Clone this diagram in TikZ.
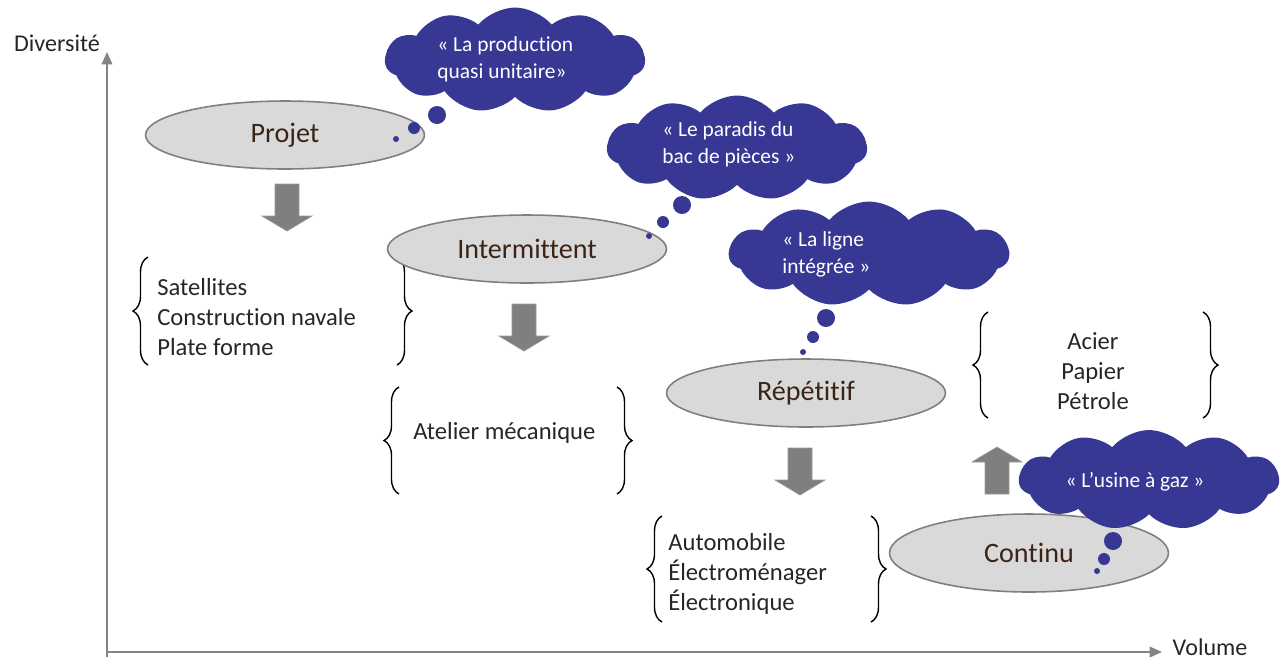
\documentclass[tikz,border=0pt]{standalone}
\usepackage{fontspec}
\setmainfont{Carlito}[Ligatures=NoCommon]
\usetikzlibrary{shapes.symbols,shapes.geometric,decorations.pathreplacing,arrows.meta}
\definecolor{cloudblue}{HTML}{373893}
\definecolor{ellfill}{HTML}{D9D9D9}
\definecolor{ellline}{HTML}{7F7F7F}
\definecolor{axisgray}{HTML}{858585}
\definecolor{arrowgray}{HTML}{7F7F7F}
\definecolor{ellfont}{HTML}{3B2416}
\definecolor{txt}{HTML}{262626}
\begin{document}
\begin{tikzpicture}[x=0.02cm,y=-0.02cm,
  stage/.style={ellipse, draw=ellline, line width=0.9pt, fill=ellfill, inner sep=0pt,
    minimum width=5.58cm, minimum height=1.36cm, font=\fontsize{16}{19}\selectfont, text=ellfont},
  thought/.style={cloud, cloud puffs=11, cloud puff arc=100, fill=cloudblue, draw=none, inner sep=0pt, aspect=2.5},
  cloudtext/.style={text=white, font=\fontsize{12.2}{15.3}\selectfont, align=left, inner sep=0pt, anchor=north west},
  bubble/.style={circle, fill=cloudblue, inner sep=0pt},
  examples/.style={text=txt, font=\fontsize{14}{17}\selectfont, inner sep=0pt},
  axislabel/.style={text=txt, font=\fontsize{13.7}{16}\selectfont, inner sep=0pt},
  axisline/.style={draw=axisgray, line width=1.1pt, -{Triangle[length=7pt,width=6pt]}},
  bracepath/.style={decorate, decoration={brace, amplitude=0.3cm}, line width=0.8pt, draw=black},
  blockarrow/.style={fill=arrowgray, draw=arrowgray!80!white, line width=0.4pt}
]
\useasboundingbox (0,0) rectangle (1281,664);

% axes
\coordinate (origin) at (107,652);
\coordinate (ytop) at (107,52);
\coordinate (xend) at (1162,652);
\draw[axisline] (107,657) -- (ytop);
\draw[axisline] (origin) -- (xend);
\node[axislabel] (ylab) at (57,43) {Diversité};
\node[axislabel] (xlab) at (1210,647) {Volume};

% braces
\coordinate (b1lb) at (148,365); \coordinate (b1lt) at (148,257);
\coordinate (b1rt) at (397,257); \coordinate (b1rb) at (397,365);
\draw[bracepath] (b1lb) -- (b1lt);
\draw[bracepath] (b1rt) -- (b1rb);
\coordinate (b2lb) at (399,494); \coordinate (b2lt) at (399,387);
\coordinate (b2rt) at (617,387); \coordinate (b2rb) at (617,494);
\draw[bracepath] (b2lb) -- (b2lt);
\draw[bracepath] (b2rt) -- (b2rb);
\coordinate (b3lb) at (662,622); \coordinate (b3lt) at (662,516);
\coordinate (b3rt) at (871,516); \coordinate (b3rb) at (871,622);
\draw[bracepath] (b3lb) -- (b3lt);
\draw[bracepath] (b3rt) -- (b3rb);
\coordinate (b4lb) at (988,418); \coordinate (b4lt) at (988,312);
\coordinate (b4rt) at (1203,312); \coordinate (b4rb) at (1203,418);
\draw[bracepath] (b4lb) -- (b4lt);
\draw[bracepath] (b4rt) -- (b4rb);

% example texts
\node[examples, align=left, anchor=west] (ex1) at (157,317) {Satellites\\Construction navale\\Plate forme};
\node[examples, anchor=west] (ex2) at (413,433) {Atelier mécanique};
\node[examples, align=left, anchor=west] (ex3) at (668,574) {Automobile\\Électroménager\\Électronique};
\node[examples, align=center] (ex4) at (1093,371) {Acier\\Papier\\Pétrole};

% block arrows
\fill[blockarrow, shift={(287,184)}] (-12,0) -- (12,0) -- (12,32) -- (25,32) -- (0,47) -- (-25,32) -- (-12,32) -- cycle;
\fill[blockarrow, shift={(524,304)}] (-12,0) -- (12,0) -- (12,32) -- (25,32) -- (0,47) -- (-25,32) -- (-12,32) -- cycle;
\fill[blockarrow, shift={(800,448)}] (-12,0) -- (12,0) -- (12,32) -- (25,32) -- (0,47) -- (-25,32) -- (-12,32) -- cycle;
\fill[blockarrow, shift={(997,494)}] (-12,0) -- (12,0) -- (12,-32) -- (25,-32) -- (0,-47) -- (-25,-32) -- (-12,-32) -- cycle;

% stages
\node[stage] (projet) at (285,135) {Projet};
\node[stage] (inter) at (527,249) {Intermittent};
\node[stage] (repet) at (806,393) {Répétitif};
\node[stage, minimum height=1.56cm] (continu) at (1029,553) {Continu};

% clouds
\node[thought, minimum width=5.2cm, minimum height=2.1cm] (c1) at (515,60) {};
\node[cloudtext] (t1) at (437,36) {« La production\\quasi unitaire»};
\node[bubble, minimum size=0.36cm] (c1a) at (437,115) {};
\node[bubble, minimum size=0.24cm] (c1b) at (414,128) {};
\node[bubble, minimum size=0.12cm] (c1c) at (396,139) {};

\node[thought, minimum width=5.2cm, minimum height=2.1cm] (c2) at (737,148) {};
\node[cloudtext] (t2) at (662,121) {« Le paradis du\\bac de pièces »};
\node[bubble, minimum size=0.36cm] (c2a) at (682,205) {};
\node[bubble, minimum size=0.24cm] (c2b) at (663,222) {};
\node[bubble, minimum size=0.12cm] (c2c) at (649,236) {};

\node[thought, minimum width=5.6cm, minimum height=2.1cm] (c3) at (869,254) {};
\node[cloudtext] (t3) at (782,231) {« La ligne\\intégrée »};
\node[bubble, minimum size=0.36cm] (c3a) at (826,318) {};
\node[bubble, minimum size=0.24cm] (c3b) at (813,337) {};
\node[bubble, minimum size=0.12cm] (c3c) at (803,352) {};

\node[thought, minimum width=5.2cm, minimum height=2.0cm] (c4) at (1149,480) {};
\node[text=white, font=\fontsize{12.2}{15.3}\selectfont, inner sep=0pt] (t4) at (1135,482) {« L’usine à gaz »};
\node[bubble, minimum size=0.36cm] (c4a) at (1113,541) {};
\node[bubble, minimum size=0.24cm] (c4b) at (1104,559) {};
\node[bubble, minimum size=0.12cm] (c4c) at (1097,571) {};
\end{tikzpicture}
\end{document}
